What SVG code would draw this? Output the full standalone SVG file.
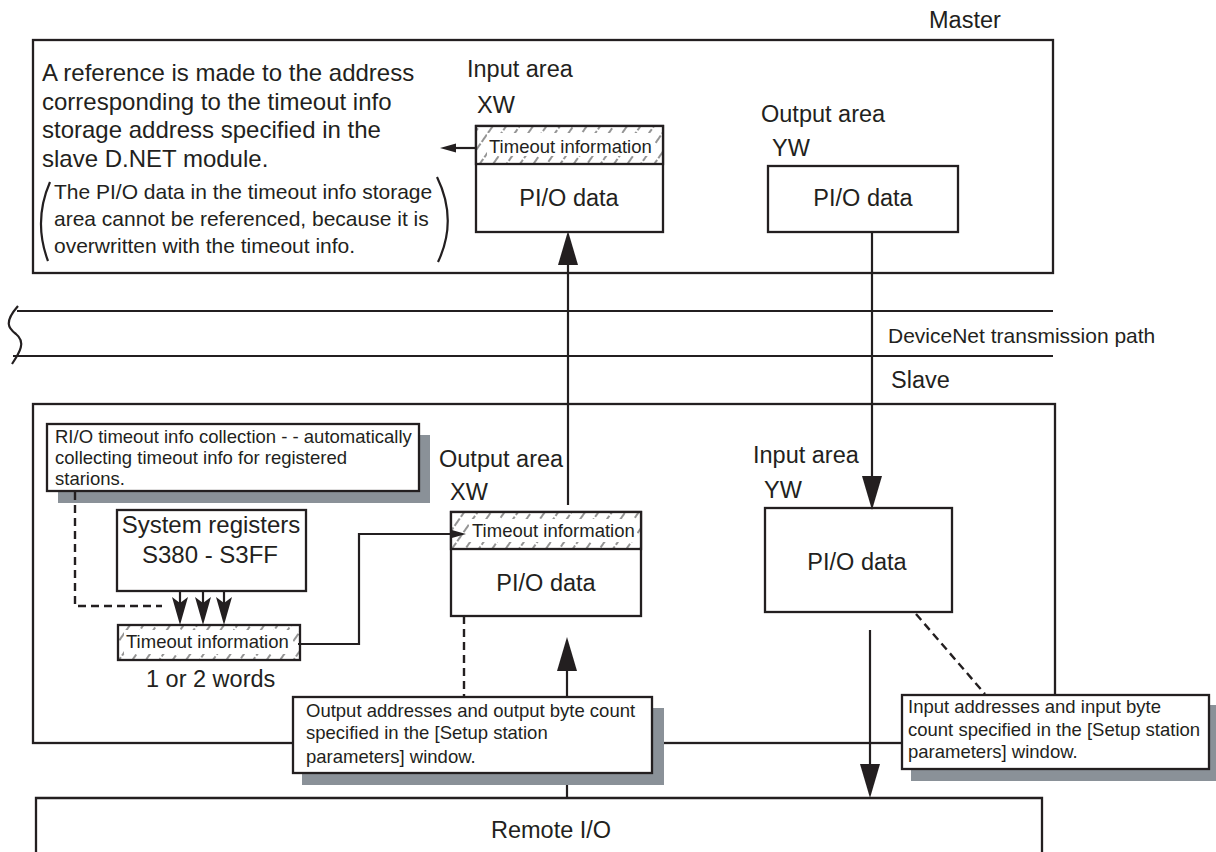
<svg xmlns="http://www.w3.org/2000/svg" width="1216" height="852" viewBox="0 0 1216 852">
<style>
text{font-family:"Liberation Sans",Arial,Helvetica,sans-serif;fill:#231f20}
.big{font-size:24px}
.lab{font-size:23.5px}
.par{font-size:21px}
.sm{font-size:18.5px}
.box{fill:#fff;stroke:#231f20;stroke-width:2.3}
.frame{fill:none;stroke:#231f20;stroke-width:2.3}
.ln{fill:none;stroke:#231f20;stroke-width:2.2}
.dash{fill:none;stroke:#231f20;stroke-width:2.4;stroke-dasharray:8 5}
.shadow{fill:#8a9198}
.hatch{fill:url(#hatch);stroke:#231f20;stroke-width:2.3}
.white{fill:#fff}
</style>
<defs>
<pattern id="hatch" patternUnits="userSpaceOnUse" width="11" height="11" patternTransform="rotate(35)">
<rect width="11" height="11" fill="#fff"/>
<line x1="3" y1="0" x2="3" y2="11" stroke="#7a7a7a" stroke-width="1.6" stroke-dasharray="5 2"/>
</pattern>
<marker id="tri" markerUnits="userSpaceOnUse" markerWidth="40" markerHeight="24" refX="0" refY="10" orient="auto">
<path d="M0,0 L34,10 L0,20 Z" fill="#231f20"/>
</marker>
<marker id="thin" markerUnits="userSpaceOnUse" markerWidth="20" markerHeight="14" refX="0" refY="6" orient="auto">
<path d="M0,6 L-4,0.5 L16,6 L-4,11.5 Z" fill="#231f20"/>
</marker>
<marker id="down" markerUnits="userSpaceOnUse" markerWidth="34" markerHeight="20" refX="6" refY="9" orient="auto">
<path d="M6,9 L0,1 L28,9 L0,17 Z" fill="#231f20"/>
</marker>
</defs>

<g id="master">
<text class="lab" x="929" y="28">Master</text>
<rect class="frame" x="33" y="40" width="1020" height="233"/>
<text class="big" x="42" y="81">A reference is made to the address</text>
<text class="big" x="42" y="110">corresponding to the timeout info</text>
<text class="big" x="42" y="138">storage address specified in the</text>
<text class="big" x="42" y="167">slave D.NET module.</text>
<path class="ln" d="M50,182 Q33,221 48,261" stroke-width="1.6"/>
<path class="ln" d="M437,177 Q458,220 438,262" stroke-width="1.6"/>
<text class="par" x="54" y="199">The PI/O data in the timeout info storage</text>
<text class="par" x="54" y="226">area cannot be referenced, because it is</text>
<text class="par" x="54" y="253">overwritten with the timeout info.</text>
</g>

<g id="master-input">
<text class="lab" x="467" y="77">Input area</text>
<text class="lab" x="477" y="113">XW</text>
<rect class="box" x="476" y="126" width="187" height="106"/>
<rect class="hatch" x="476" y="126" width="187" height="38"/>
<rect class="white" x="487" y="133" width="168" height="23"/>
<text class="sm" x="489" y="153">Timeout information</text>
<text class="lab" x="569" y="206" text-anchor="middle">PI/O data</text>
</g>

<g id="master-output">
<text class="lab" x="761" y="122">Output area</text>
<text class="lab" x="772" y="156">YW</text>
<rect class="box" x="768" y="166" width="190" height="66"/>
<text class="lab" x="863" y="206" text-anchor="middle">PI/O data</text>
</g>

<g id="devicenet">
<path class="ln" d="M17,311 H1053 M13,356 H1053"/>
<path class="ln" d="M18,306 C4,322 8,328 16,334 C26,342 20,352 12,364"/>
<text style="font-size:21px" x="888" y="343">DeviceNet transmission path</text>
</g>

<g id="slave">
<text class="lab" x="891" y="388">Slave</text>
<rect class="frame" x="33" y="404" width="1022" height="339"/>
</g>

<g id="rio-collection">
<rect class="shadow" x="58" y="435" width="372" height="68"/>
<rect class="box" x="47" y="424" width="372" height="67"/>
<text class="sm" x="55" y="443">RI/O timeout info collection - - automatically</text>
<text class="sm" x="55" y="464">collecting timeout info for registered</text>
<text class="sm" x="55" y="485">starions.</text>
</g>

<g id="system-registers">
<rect class="box" x="117" y="510" width="189" height="81"/>
<text class="lab" x="211" y="533" text-anchor="middle" style="font-size:24px">System registers</text>
<text class="lab" x="210" y="563" text-anchor="middle" style="font-size:24px">S380 - S3FF</text>
</g>

<g id="timeout-info">
<rect class="hatch" x="118" y="625" width="182" height="35"/>
<rect class="white" x="124" y="630" width="169" height="24"/>
<text class="sm" x="126" y="648">Timeout information</text>
<text class="lab" x="146" y="687">1 or 2 words</text>
</g>

<g id="slave-output">
<text class="lab" x="439" y="467">Output area</text>
<text class="lab" x="450" y="500">XW</text>
<rect class="box" x="451" y="512" width="190" height="104"/>
<rect class="hatch" x="451" y="512" width="190" height="37"/>
<rect class="white" x="469" y="519" width="168" height="23"/>
<text class="sm" x="472" y="537">Timeout information</text>
<text class="lab" x="546" y="591" text-anchor="middle">PI/O data</text>
</g>

<g id="slave-input">
<text class="lab" x="753" y="463">Input area</text>
<text class="lab" x="764" y="498">YW</text>
<rect class="box" x="765" y="508" width="187" height="104"/>
<text class="lab" x="857" y="570" text-anchor="middle">PI/O data</text>
</g>

<g id="remote-io">
<path class="frame" d="M36,860 V798 H1042 V860"/>
<text class="lab" x="491" y="838">Remote I/O</text>
</g>

<g id="connectors">
<line class="ln" x1="568" y1="505" x2="568" y2="265" marker-end="url(#tri)"/>
<line class="ln" x1="872" y1="232" x2="872" y2="476" marker-end="url(#tri)"/>
<line class="ln" x1="870" y1="630" x2="870" y2="764" marker-end="url(#tri)"/>
<line class="ln" x1="567" y1="798" x2="567" y2="671" marker-end="url(#tri)"/>
<line class="ln" x1="476" y1="148" x2="456" y2="148" stroke-width="1.8" marker-end="url(#thin)"/>
<polyline class="ln" points="298,644 359,644 359,534 450,534" stroke-width="2.4" marker-end="url(#thin)"/>
<line class="ln" x1="180" y1="591" x2="180" y2="603" marker-end="url(#down)"/>
<line class="ln" x1="203" y1="591" x2="203" y2="603" marker-end="url(#down)"/>
<line class="ln" x1="224" y1="591" x2="224" y2="603" marker-end="url(#down)"/>
<polyline class="dash" points="75,492 75,606 162,606"/>
<line class="dash" x1="464" y1="616" x2="464" y2="697" stroke-width="2"/>
<line class="dash" x1="916" y1="614" x2="985" y2="694"/>
</g>

<g id="output-addresses">
<rect class="shadow" x="302" y="708" width="362" height="77"/>
<rect class="box" x="293" y="697" width="359" height="76"/>
<text class="sm" x="306" y="717">Output addresses and output byte count</text>
<text class="sm" x="306" y="739">specified in the [Setup station</text>
<text class="sm" x="306" y="763">parameters] window.</text>
</g>

<g id="input-addresses">
<rect class="shadow" x="911" y="705" width="310" height="76"/>
<rect class="box" x="902" y="695" width="307" height="74"/>
<text class="sm" x="908" y="713">Input addresses and input byte</text>
<text class="sm" x="908" y="736">count specified in the [Setup station</text>
<text class="sm" x="908" y="758">parameters] window.</text>
</g>
</svg>
